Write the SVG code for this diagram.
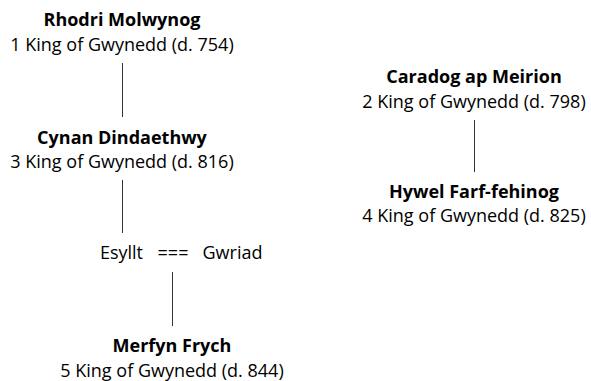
<svg xmlns="http://www.w3.org/2000/svg" width="591" height="381" viewBox="0 0 591 381">
<style>
text{font-family:"Open Sans","Liberation Sans",sans-serif;font-size:18px;fill:#000;text-anchor:middle}
.n{font-weight:bold}
.c line{stroke:#333;stroke-width:1}
</style>
<rect width="591" height="381" fill="#fff"/>
<g class="c" id="connectors">
<line x1="122.5" y1="63" x2="122.5" y2="117"/>
<line x1="122.5" y1="180" x2="122.5" y2="233"/>
<line x1="172.5" y1="272" x2="172.5" y2="326"/>
<line x1="474.5" y1="120" x2="474.5" y2="172"/>
</g>
<g id="rhodri"><text class="n" x="122" y="26">Rhodri Molwynog</text><text x="122" y="51">1 King of Gwynedd (d. 754)</text></g>
<g id="caradog"><text class="n" x="474" y="83">Caradog ap Meirion</text><text x="474" y="108">2 King of Gwynedd (d. 798)</text></g>
<g id="cynan"><text class="n" x="122" y="144">Cynan Dindaethwy</text><text x="122" y="168">3 King of Gwynedd (d. 816)</text></g>
<g id="hywel"><text class="n" x="474" y="198">Hywel Farf-fehinog</text><text x="474" y="222">4 King of Gwynedd (d. 825)</text></g>
<g id="marriage"><text y="259"><tspan x="121.5">Esyllt</tspan><tspan x="173">===</tspan><tspan x="232.5">Gwriad</tspan></text></g>
<g id="merfyn"><text class="n" x="172" y="352">Merfyn Frych</text><text x="172" y="377">5 King of Gwynedd (d. 844)</text></g>
</svg>
